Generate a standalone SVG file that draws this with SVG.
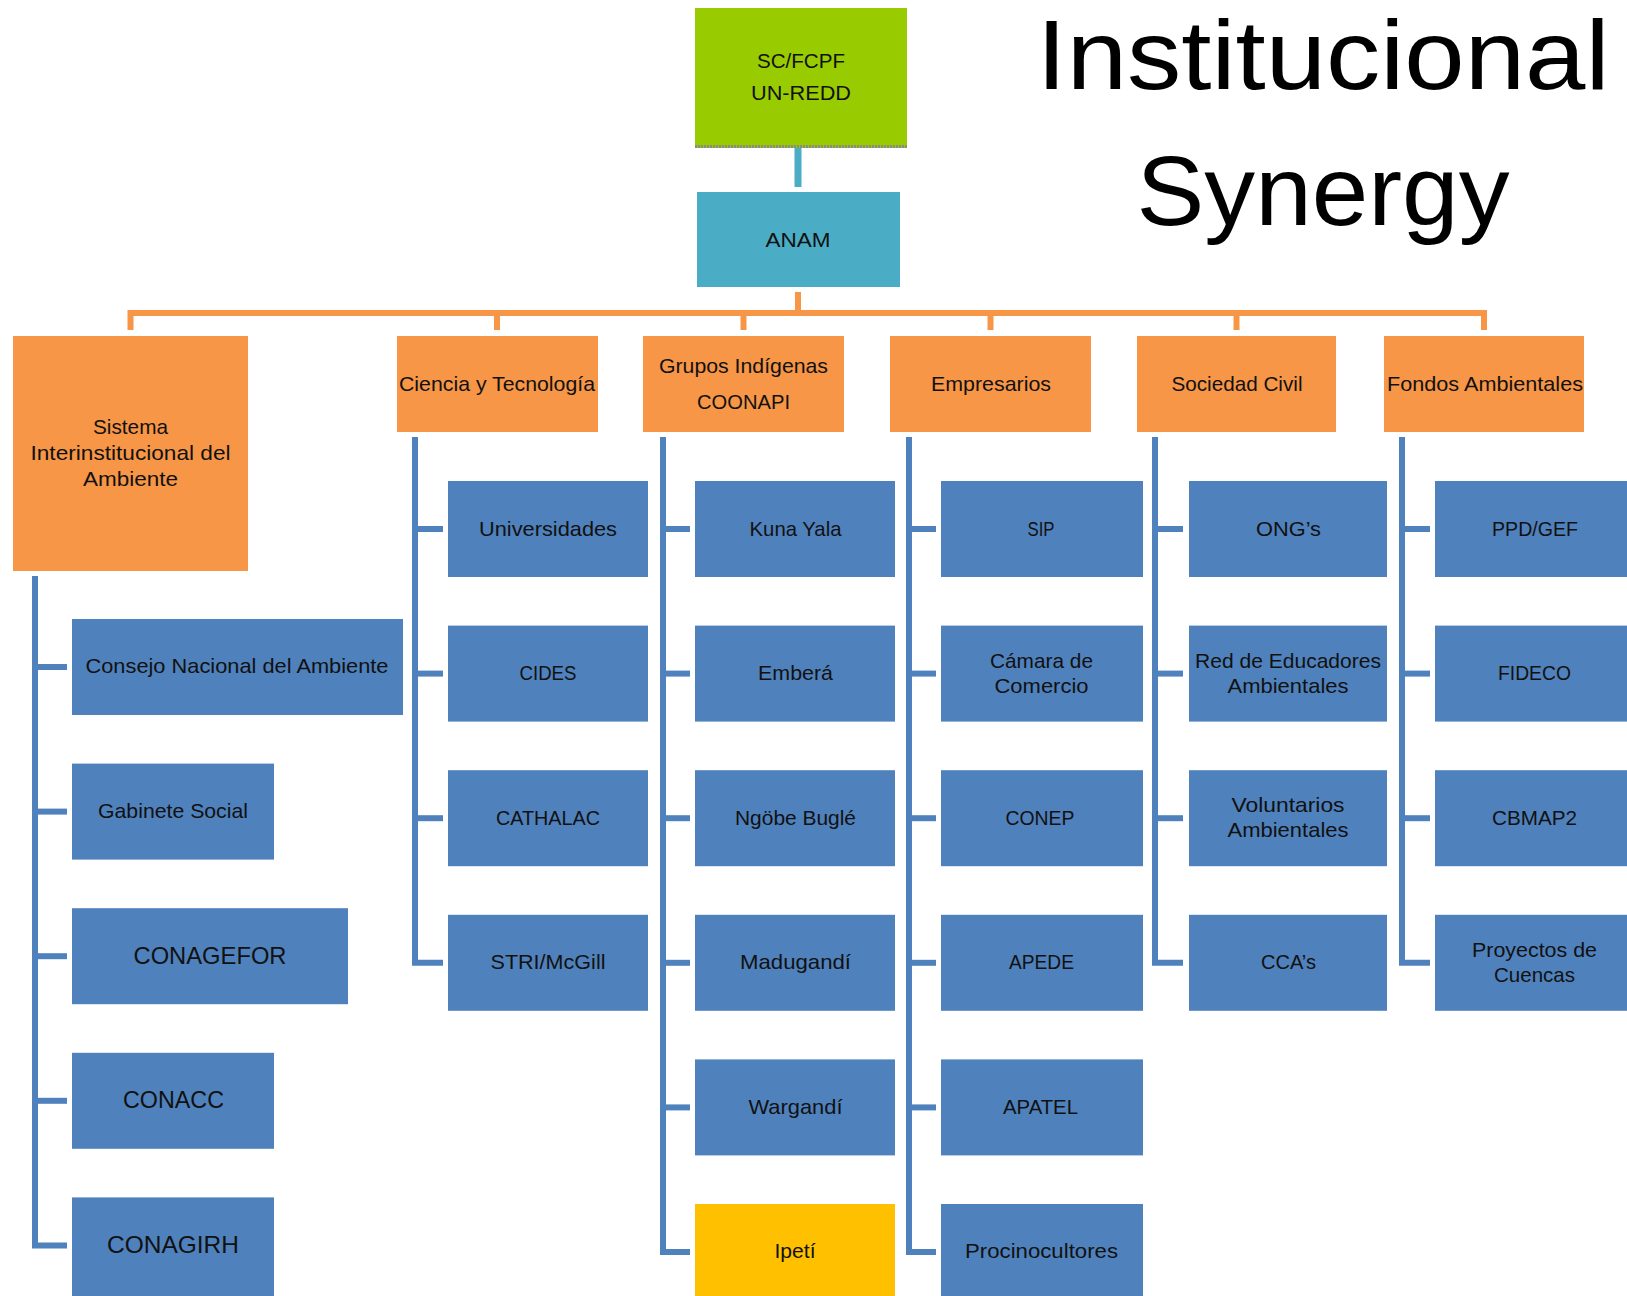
<svg xmlns="http://www.w3.org/2000/svg" width="1627" height="1296" viewBox="0 0 1627 1296">
<style>
.bg{fill:#ffffff}
.blue{fill:#4F81BD}
.org{fill:#F79646}
.grn{fill:#99CC00}
.teal{fill:#4BACC6}
.yel{fill:#FFC000}
.t{font-family:"Liberation Sans",Arial,sans-serif;font-size:21px;fill:#111111;text-anchor:middle}
.big{font-size:24px}
.title{font-family:"Liberation Sans",Arial,sans-serif;font-size:98px;fill:#000000;text-anchor:middle}
.cb{stroke:#4F81BD;stroke-width:6;fill:none;stroke-linejoin:miter}
.co{stroke:#F79646;stroke-width:6;fill:none}
.ct{stroke:#4BACC6;stroke-width:7;fill:none}
</style>
<rect class="bg" x="0" y="0" width="1627" height="1296"/>

<g id="title">
<text class="title" x="1323" y="89" textLength="573" lengthAdjust="spacingAndGlyphs">Institucional</text>
<text class="title" x="1323" y="225" textLength="373" lengthAdjust="spacingAndGlyphs">Synergy</text>
</g>

<g id="connectors">
<line class="ct" x1="798" y1="148" x2="798" y2="187"/>
<line class="co" x1="798" y1="292" x2="798" y2="313"/>
<path class="co" d="M130.5,330 V313 H1484 V330"/>
<line class="co" x1="497" y1="313" x2="497" y2="330"/>
<line class="co" x1="743.5" y1="313" x2="743.5" y2="330"/>
<line class="co" x1="990.5" y1="313" x2="990.5" y2="330"/>
<line class="co" x1="1236.5" y1="313" x2="1236.5" y2="330"/>
<!-- left column -->
<path class="cb" d="M35,576 V1245.4 H67"/>
<line class="cb" x1="35" y1="667" x2="67" y2="667"/>
<line class="cb" x1="35" y1="811.6" x2="67" y2="811.6"/>
<line class="cb" x1="35" y1="956.2" x2="67" y2="956.2"/>
<line class="cb" x1="35" y1="1100.8" x2="67" y2="1100.8"/>
<!-- Ciencia -->
<path class="cb" d="M415,437 V962.8 H443"/>
<line class="cb" x1="415" y1="529" x2="443" y2="529"/>
<line class="cb" x1="415" y1="673.6" x2="443" y2="673.6"/>
<line class="cb" x1="415" y1="818.2" x2="443" y2="818.2"/>
<!-- Grupos -->
<path class="cb" d="M663,437 V1252 H690"/>
<line class="cb" x1="663" y1="529" x2="690" y2="529"/>
<line class="cb" x1="663" y1="673.6" x2="690" y2="673.6"/>
<line class="cb" x1="663" y1="818.2" x2="690" y2="818.2"/>
<line class="cb" x1="663" y1="962.8" x2="690" y2="962.8"/>
<line class="cb" x1="663" y1="1107.4" x2="690" y2="1107.4"/>
<!-- Empresarios -->
<path class="cb" d="M909,437 V1252 H936"/>
<line class="cb" x1="909" y1="529" x2="936" y2="529"/>
<line class="cb" x1="909" y1="673.6" x2="936" y2="673.6"/>
<line class="cb" x1="909" y1="818.2" x2="936" y2="818.2"/>
<line class="cb" x1="909" y1="962.8" x2="936" y2="962.8"/>
<line class="cb" x1="909" y1="1107.4" x2="936" y2="1107.4"/>
<!-- Sociedad -->
<path class="cb" d="M1155,437 V962.8 H1183"/>
<line class="cb" x1="1155" y1="529" x2="1183" y2="529"/>
<line class="cb" x1="1155" y1="673.6" x2="1183" y2="673.6"/>
<line class="cb" x1="1155" y1="818.2" x2="1183" y2="818.2"/>
<!-- Fondos -->
<path class="cb" d="M1402,437 V962.8 H1430"/>
<line class="cb" x1="1402" y1="529" x2="1430" y2="529"/>
<line class="cb" x1="1402" y1="673.6" x2="1430" y2="673.6"/>
<line class="cb" x1="1402" y1="818.2" x2="1430" y2="818.2"/>
</g>

<g id="scfcpf">
<rect class="grn" x="695" y="8" width="212" height="140"/>
<line x1="695" y1="146.5" x2="907" y2="146.5" stroke="#8a8a8a" stroke-width="3" stroke-dasharray="2 1"/>
<text class="t" x="801" y="68" textLength="88" lengthAdjust="spacingAndGlyphs">SC/FCPF</text>
<text class="t" x="801" y="100" textLength="100" lengthAdjust="spacingAndGlyphs">UN-REDD</text>
</g>
<g id="anam">
<rect class="teal" x="697" y="192" width="203" height="95"/>
<text class="t" x="798" y="247" textLength="65" lengthAdjust="spacingAndGlyphs">ANAM</text>
</g>

<g id="sistema">
<rect class="org" x="13" y="336" width="235" height="235"/>
<text class="t" x="130.5" y="434" textLength="75" lengthAdjust="spacingAndGlyphs">Sistema</text>
<text class="t" x="130.5" y="460" textLength="200" lengthAdjust="spacingAndGlyphs">Interinstitucional del</text>
<text class="t" x="130.5" y="486" textLength="95" lengthAdjust="spacingAndGlyphs">Ambiente</text>
</g>
<g id="ciencia">
<rect class="org" x="397" y="336" width="201" height="96"/>
<text class="t" x="497" y="391" textLength="196" lengthAdjust="spacingAndGlyphs">Ciencia y Tecnología</text>
</g>
<g id="grupos">
<rect class="org" x="643" y="336" width="201" height="96"/>
<text class="t" x="743.5" y="373" textLength="169" lengthAdjust="spacingAndGlyphs">Grupos Indígenas</text>
<text class="t" x="743.5" y="409" textLength="93" lengthAdjust="spacingAndGlyphs">COONAPI</text>
</g>
<g id="empresarios">
<rect class="org" x="890" y="336" width="201" height="96"/>
<text class="t" x="991" y="391" textLength="120" lengthAdjust="spacingAndGlyphs">Empresarios</text>
</g>
<g id="sociedad">
<rect class="org" x="1137" y="336" width="199" height="96"/>
<text class="t" x="1237" y="391" textLength="131" lengthAdjust="spacingAndGlyphs">Sociedad Civil</text>
</g>
<g id="fondos">
<rect class="org" x="1384" y="336" width="200" height="96"/>
<text class="t" x="1485" y="391" textLength="196" lengthAdjust="spacingAndGlyphs">Fondos Ambientales</text>
</g>

<!-- left column children -->
<g id="consejo">
<rect class="blue" x="72" y="619" width="331" height="96"/>
<text class="t" x="237" y="673" textLength="303" lengthAdjust="spacingAndGlyphs">Consejo Nacional del Ambiente</text>
</g>
<g id="gabinete">
<rect class="blue" x="72" y="763.6" width="202" height="96"/>
<text class="t" x="173" y="818" textLength="150" lengthAdjust="spacingAndGlyphs">Gabinete Social</text>
</g>
<g id="conagefor">
<rect class="blue" x="72" y="908.2" width="276" height="96"/>
<text class="t big" x="210" y="964" textLength="153" lengthAdjust="spacingAndGlyphs">CONAGEFOR</text>
</g>
<g id="conacc">
<rect class="blue" x="72" y="1052.8" width="202" height="96"/>
<text class="t big" x="173.5" y="1108" textLength="101" lengthAdjust="spacingAndGlyphs">CONACC</text>
</g>
<g id="conagirh">
<rect class="blue" x="72" y="1197.4" width="202" height="98.6"/>
<text class="t big" x="173" y="1253" textLength="132" lengthAdjust="spacingAndGlyphs">CONAGIRH</text>
</g>

<!-- Ciencia children -->
<g id="universidades">
<rect class="blue" x="448" y="481" width="200" height="96"/>
<text class="t" x="548" y="536" textLength="138" lengthAdjust="spacingAndGlyphs">Universidades</text>
</g>
<g id="cides">
<rect class="blue" x="448" y="625.6" width="200" height="96"/>
<text class="t" x="548" y="680" textLength="57" lengthAdjust="spacingAndGlyphs">CIDES</text>
</g>
<g id="cathalac">
<rect class="blue" x="448" y="770.2" width="200" height="96"/>
<text class="t" x="548" y="825" textLength="104" lengthAdjust="spacingAndGlyphs">CATHALAC</text>
</g>
<g id="stri">
<rect class="blue" x="448" y="914.8" width="200" height="96"/>
<text class="t" x="548" y="969" textLength="115" lengthAdjust="spacingAndGlyphs">STRI/McGill</text>
</g>

<!-- Grupos children -->
<g id="kuna">
<rect class="blue" x="695" y="481" width="200" height="96"/>
<text class="t" x="795.5" y="536" textLength="92" lengthAdjust="spacingAndGlyphs">Kuna Yala</text>
</g>
<g id="embera">
<rect class="blue" x="695" y="625.6" width="200" height="96"/>
<text class="t" x="795.5" y="680" textLength="75" lengthAdjust="spacingAndGlyphs">Emberá</text>
</g>
<g id="ngobe">
<rect class="blue" x="695" y="770.2" width="200" height="96"/>
<text class="t" x="795.5" y="825" textLength="121" lengthAdjust="spacingAndGlyphs">Ngöbe Buglé</text>
</g>
<g id="madugandi">
<rect class="blue" x="695" y="914.8" width="200" height="96"/>
<text class="t" x="795.5" y="969" textLength="111" lengthAdjust="spacingAndGlyphs">Madugandí</text>
</g>
<g id="wargandi">
<rect class="blue" x="695" y="1059.4" width="200" height="96"/>
<text class="t" x="795.5" y="1114" textLength="94" lengthAdjust="spacingAndGlyphs">Wargandí</text>
</g>
<g id="ipeti">
<rect class="yel" x="695" y="1204" width="200" height="92"/>
<text class="t" x="795" y="1258" textLength="41" lengthAdjust="spacingAndGlyphs">Ipetí</text>
</g>

<!-- Empresarios children -->
<g id="sip">
<rect class="blue" x="941" y="481" width="202" height="96"/>
<text class="t" x="1041" y="536" textLength="27" lengthAdjust="spacingAndGlyphs">SIP</text>
</g>
<g id="camara">
<rect class="blue" x="941" y="625.6" width="202" height="96"/>
<text class="t" x="1041.5" y="668" textLength="103" lengthAdjust="spacingAndGlyphs">Cámara de</text>
<text class="t" x="1041.5" y="693" textLength="94" lengthAdjust="spacingAndGlyphs">Comercio</text>
</g>
<g id="conep">
<rect class="blue" x="941" y="770.2" width="202" height="96"/>
<text class="t" x="1040" y="825" textLength="69" lengthAdjust="spacingAndGlyphs">CONEP</text>
</g>
<g id="apede">
<rect class="blue" x="941" y="914.8" width="202" height="96"/>
<text class="t" x="1041.5" y="969" textLength="65" lengthAdjust="spacingAndGlyphs">APEDE</text>
</g>
<g id="apatel">
<rect class="blue" x="941" y="1059.4" width="202" height="96"/>
<text class="t" x="1040.5" y="1114" textLength="75" lengthAdjust="spacingAndGlyphs">APATEL</text>
</g>
<g id="procinocultores">
<rect class="blue" x="941" y="1204" width="202" height="92"/>
<text class="t" x="1041.5" y="1258" textLength="153" lengthAdjust="spacingAndGlyphs">Procinocultores</text>
</g>

<!-- Sociedad children -->
<g id="ongs">
<rect class="blue" x="1189" y="481" width="198" height="96"/>
<text class="t" x="1288.5" y="536" textLength="65" lengthAdjust="spacingAndGlyphs">ONG’s</text>
</g>
<g id="red">
<rect class="blue" x="1189" y="625.6" width="198" height="96"/>
<text class="t" x="1288" y="668" textLength="186" lengthAdjust="spacingAndGlyphs">Red de Educadores</text>
<text class="t" x="1288" y="693" textLength="121" lengthAdjust="spacingAndGlyphs">Ambientales</text>
</g>
<g id="voluntarios">
<rect class="blue" x="1189" y="770.2" width="198" height="96"/>
<text class="t" x="1288" y="812" textLength="113" lengthAdjust="spacingAndGlyphs">Voluntarios</text>
<text class="t" x="1288" y="837" textLength="121" lengthAdjust="spacingAndGlyphs">Ambientales</text>
</g>
<g id="ccas">
<rect class="blue" x="1189" y="914.8" width="198" height="96"/>
<text class="t" x="1288.5" y="969" textLength="55" lengthAdjust="spacingAndGlyphs">CCA’s</text>
</g>

<!-- Fondos children -->
<g id="ppdgef">
<rect class="blue" x="1435" y="481" width="200" height="96"/>
<text class="t" x="1535" y="536" textLength="86" lengthAdjust="spacingAndGlyphs">PPD/GEF</text>
</g>
<g id="fideco">
<rect class="blue" x="1435" y="625.6" width="200" height="96"/>
<text class="t" x="1534.5" y="680" textLength="73" lengthAdjust="spacingAndGlyphs">FIDECO</text>
</g>
<g id="cbmap2">
<rect class="blue" x="1435" y="770.2" width="200" height="96"/>
<text class="t" x="1534.5" y="825" textLength="85" lengthAdjust="spacingAndGlyphs">CBMAP2</text>
</g>
<g id="proyectos">
<rect class="blue" x="1435" y="914.8" width="200" height="96"/>
<text class="t" x="1534.5" y="957" textLength="125" lengthAdjust="spacingAndGlyphs">Proyectos de</text>
<text class="t" x="1534.5" y="982" textLength="81" lengthAdjust="spacingAndGlyphs">Cuencas</text>
</g>
</svg>
